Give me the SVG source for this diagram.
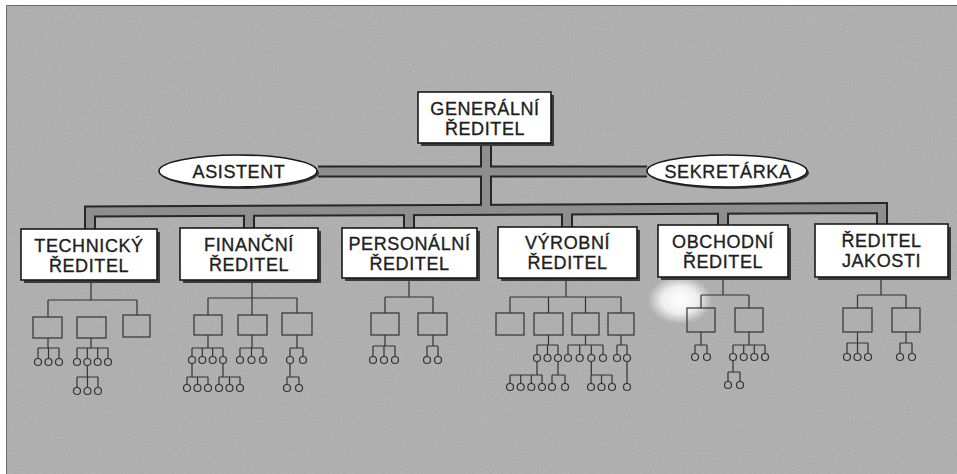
<svg xmlns="http://www.w3.org/2000/svg" width="957" height="474" viewBox="0 0 957 474">
<defs>
<filter id="noise" x="0" y="0" width="100%" height="100%">
<feTurbulence type="fractalNoise" baseFrequency="0.85" numOctaves="2" seed="7"/>
<feColorMatrix type="matrix" values="0.33 0.33 0.33 0 0 0.33 0.33 0.33 0 0 0.33 0.33 0.33 0 0 0 0 0 0 1"/>
</filter>
<radialGradient id="glare" cx="0.5" cy="0.5" r="0.5">
<stop offset="0" stop-color="#ffffff" stop-opacity="1"/>
<stop offset="0.55" stop-color="#ffffff" stop-opacity="0.8"/>
<stop offset="1" stop-color="#ffffff" stop-opacity="0"/>
</radialGradient>
<style>
.t{font-family:"Liberation Sans",Arial,sans-serif;font-size:18px;fill:#1e1e1e;stroke:#1e1e1e;stroke-width:0.35;text-anchor:middle;letter-spacing:0.6px}
.box{fill:#ffffff;stroke:#1a1a1a;stroke-width:1.6}
.shd{fill:#3a3a3a}
.pipeO{fill:none;stroke:#262626;stroke-width:12;stroke-linejoin:miter}
.pipeI{fill:none;stroke:#8e8e8e;stroke-width:8;stroke-linejoin:miter}
.ln{fill:none;stroke:#333333;stroke-width:1.2}
.sb{fill:none;stroke:#333333;stroke-width:1.2}
.c{fill:none;stroke:#333333;stroke-width:1.2}
</style>
</defs>
<rect x="0" y="0" width="957" height="474" fill="#ffffff"/>
<rect x="6" y="5" width="951" height="469" fill="#adadad"/>
<rect x="6" y="5" width="951" height="469" filter="url(#noise)" opacity="0.2"/>
<path d="M6.5,474 V5.5 H957" fill="none" stroke="#6a6a6a" stroke-width="1"/>
<ellipse cx="680" cy="300" rx="32" ry="24" fill="url(#glare)"/>

<g id="connectors">
<g id="pipes">
<path class="pipeO" d="M318,171.5 H647"/>
<path class="pipeO" d="M486,140 V211"/>
<path class="pipeO" d="M90,233 V211.5 L882,208 V230"/>
<path class="pipeO" d="M249,210.8 V232 M409,210.1 V232 M567,209.4 V231 M723,208.7 V229"/>
<path class="pipeI" d="M318,171.5 H647"/>
<path class="pipeI" d="M486,140 V211"/>
<path class="pipeI" d="M90,233 V211.5 L882,208 V230"/>
<path class="pipeI" d="M249,210.8 V232 M409,210.1 V232 M567,209.4 V231 M723,208.7 V229"/>
</g>
<path class="ln" d="M91,282 V300 M48,300 H137 M48,300 V317 M137,300 V315
M48,338 V348 M38,348 H59 M38,348 V358.5 M48.5,348 V358.5 M59,348 V358.5
M91,338 V348 M77,348 H108 M77,348 V358.5 M87.3,348 V358.5 M97.7,348 V358.5 M108,348 V358.5
M87.3,365.5 V377 M77,377 H98 M77,377 V387.5 M87.5,377 V387.5 M98,377 V387.5"/>
<path class="ln" d="M252,282 V298 M208,298 H297 M208,298 V315 M252,298 V315 M297,298 V313
M208,335 V348 M192,348 H223 M192,348 V356.5 M202.3,348 V356.5 M212.7,348 V356.5 M223,348 V356.5
M192,363.5 V377 M187,377 H208 M187,377 V384.5 M197.5,377 V384.5 M208,377 V384.5
M223,363.5 V377 M219,377 H240 M219,377 V384.5 M229.5,377 V384.5 M240,377 V384.5
M252,335 V348 M240,348 H263 M240,348 V356.5 M251.5,348 V356.5 M263,348 V356.5
M297,335 V348 M290,348 H303 M290,348 V356.5 M303,348 V356.5
M290,363.5 V377 M287,377 H299 M287,377 V384.5 M299,377 V384.5"/>
<path class="ln" d="M409,280 V297 M385,297 H433 M385,297 V313 M433,297 V313
M385,335 V346 M373,346 H395 M373,346 V356.5 M384,346 V356.5 M395,346 V356.5
M433,335 V346 M427,346 H438 M427,346 V356.5 M438,346 V356.5"/>
<path class="ln" d="M566,280 V297 M510,297 H621 M510,297 V313 M548.5,297 V313 M585.5,297 V313 M621,297 V313
M548.5,335 V345 M537,345 H558 M537,345 V354.5 M547.5,345 V354.5 M558,345 V354.5
M537,361.5 V375 M510,375 H542 M510,375 V383.5 M520.7,375 V383.5 M531.3,375 V383.5 M542,375 V383.5
M558,361.5 V375 M552,375 H565 M552,375 V383.5 M565,375 V383.5
M585.5,335 V345 M568,345 H603 M568,345 V354.5 M579.7,345 V354.5 M591.3,345 V354.5 M603,345 V354.5
M591.3,361.5 V375 M591,375 H612 M591,375 V383.5 M601.5,375 V383.5 M612,375 V383.5
M621,335 V345 M617,345 H627 M617,345 V354.5 M627,345 V354.5
M627,361.5 V383.5"/>
<path class="ln" d="M723,279 V295 M701,295 H749 M701,295 V308 M749,295 V308
M701,332 V345 M695,345 H707 M695,345 V353.5 M707,345 V353.5
M749,332 V345 M733,345 H765 M733,345 V353.5 M743.7,345 V353.5 M754.3,345 V353.5 M765,345 V353.5
M733,360.5 V372 M728,372 H740 M728,372 V381.5 M740,372 V381.5"/>
<path class="ln" d="M881,279 V295 M857.5,295 H906 M857.5,295 V308 M906,295 V308
M857.5,332 V343 M847,343 H868 M847,343 V353.5 M857.5,343 V353.5 M868,343 V353.5
M906,332 V343 M900,343 H912 M900,343 V353.5 M912,343 V353.5"/>
</g>

<g id="node-generalni-reditel">
<rect class="shd" x="421" y="95" width="133" height="51"/>
<rect class="box" x="418" y="92" width="133" height="51"/>
<text class="t" x="485" y="115">GENERÁLNÍ</text>
<text class="t" x="485" y="135">ŘEDITEL</text>
</g>
<g id="node-asistent">
<ellipse class="shd" cx="240" cy="173" rx="79" ry="16"/>
<ellipse class="box" cx="238" cy="171" rx="79" ry="16"/>
<text class="t" x="239" y="177.5">ASISTENT</text>
</g>
<g id="node-sekretarka">
<ellipse class="shd" cx="729" cy="173" rx="80" ry="16"/>
<ellipse class="box" cx="727" cy="171" rx="80" ry="16"/>
<text class="t" x="728" y="177.5">SEKRETÁRKA</text>
</g>

<g id="node-technicky">
<rect class="shd" x="24" y="232" width="136" height="51"/>
<rect class="box" x="21" y="229" width="136" height="51"/>
<text class="t" x="89" y="252">TECHNICKÝ</text>
<text class="t" x="89" y="272">ŘEDITEL</text>
<rect class="sb" x="33" y="317" width="29" height="21"/>
<rect class="sb" x="77" y="317" width="29" height="21"/>
<rect class="sb" x="123" y="315" width="27" height="22"/>
<circle class="c" cx="38" cy="362" r="3.5"/><circle class="c" cx="48.5" cy="362" r="3.5"/><circle class="c" cx="59" cy="362" r="3.5"/>
<circle class="c" cx="77" cy="362" r="3.5"/><circle class="c" cx="87.3" cy="362" r="3.5"/><circle class="c" cx="97.7" cy="362" r="3.5"/><circle class="c" cx="108" cy="362" r="3.5"/>
<circle class="c" cx="77" cy="391" r="3.5"/><circle class="c" cx="87.5" cy="391" r="3.5"/><circle class="c" cx="98" cy="391" r="3.5"/>
</g>

<g id="node-financni">
<rect class="shd" x="183" y="231" width="138" height="52"/>
<rect class="box" x="180" y="228" width="138" height="52"/>
<text class="t" x="249" y="251">FINANČNÍ</text>
<text class="t" x="249" y="271">ŘEDITEL</text>
<rect class="sb" x="194" y="315" width="28" height="20"/>
<rect class="sb" x="238" y="315" width="29" height="20"/>
<rect class="sb" x="282" y="313" width="30" height="22"/>
<circle class="c" cx="192" cy="360" r="3.5"/><circle class="c" cx="202.3" cy="360" r="3.5"/><circle class="c" cx="212.7" cy="360" r="3.5"/><circle class="c" cx="223" cy="360" r="3.5"/>
<circle class="c" cx="187" cy="388" r="3.5"/><circle class="c" cx="197.5" cy="388" r="3.5"/><circle class="c" cx="208" cy="388" r="3.5"/>
<circle class="c" cx="219" cy="388" r="3.5"/><circle class="c" cx="229.5" cy="388" r="3.5"/><circle class="c" cx="240" cy="388" r="3.5"/>
<circle class="c" cx="240" cy="360" r="3.5"/><circle class="c" cx="251.5" cy="360" r="3.5"/><circle class="c" cx="263" cy="360" r="3.5"/>
<circle class="c" cx="290" cy="360" r="3.5"/><circle class="c" cx="303" cy="360" r="3.5"/>
<circle class="c" cx="287" cy="388" r="3.5"/><circle class="c" cx="299" cy="388" r="3.5"/>
</g>

<g id="node-personalni">
<rect class="shd" x="345" y="231" width="135" height="50"/>
<rect class="box" x="342" y="228" width="135" height="50"/>
<text class="t" x="409.5" y="250">PERSONÁLNÍ</text>
<text class="t" x="409.5" y="270">ŘEDITEL</text>
<rect class="sb" x="371" y="313" width="28" height="22"/>
<rect class="sb" x="418" y="313" width="29" height="22"/>
<circle class="c" cx="373" cy="360" r="3.5"/><circle class="c" cx="384" cy="360" r="3.5"/><circle class="c" cx="395" cy="360" r="3.5"/>
<circle class="c" cx="427" cy="360" r="3.5"/><circle class="c" cx="438" cy="360" r="3.5"/>
</g>

<g id="node-vyrobni">
<rect class="shd" x="501" y="230" width="139" height="51"/>
<rect class="box" x="498" y="227" width="139" height="51"/>
<text class="t" x="567.5" y="249">VÝROBNÍ</text>
<text class="t" x="567.5" y="269">ŘEDITEL</text>
<rect class="sb" x="496" y="313" width="28" height="22"/>
<rect class="sb" x="534" y="313" width="29" height="22"/>
<rect class="sb" x="572" y="313" width="27" height="22"/>
<rect class="sb" x="608" y="313" width="26" height="22"/>
<circle class="c" cx="537" cy="358" r="3.5"/><circle class="c" cx="547.5" cy="358" r="3.5"/><circle class="c" cx="558" cy="358" r="3.5"/>
<circle class="c" cx="510" cy="387" r="3.5"/><circle class="c" cx="520.7" cy="387" r="3.5"/><circle class="c" cx="531.3" cy="387" r="3.5"/><circle class="c" cx="542" cy="387" r="3.5"/>
<circle class="c" cx="552" cy="387" r="3.5"/><circle class="c" cx="565" cy="387" r="3.5"/>
<circle class="c" cx="568" cy="358" r="3.5"/><circle class="c" cx="579.7" cy="358" r="3.5"/><circle class="c" cx="591.3" cy="358" r="3.5"/><circle class="c" cx="603" cy="358" r="3.5"/>
<circle class="c" cx="591" cy="387" r="3.5"/><circle class="c" cx="601.5" cy="387" r="3.5"/><circle class="c" cx="612" cy="387" r="3.5"/>
<circle class="c" cx="617" cy="358" r="3.5"/><circle class="c" cx="627" cy="358" r="3.5"/>
<circle class="c" cx="627" cy="387" r="3.5"/>
</g>

<g id="node-obchodni">
<rect class="shd" x="661" y="228" width="130" height="52"/>
<rect class="box" x="658" y="225" width="130" height="52"/>
<text class="t" x="723" y="248">OBCHODNÍ</text>
<text class="t" x="723" y="268">ŘEDITEL</text>
<rect class="sb" x="687" y="308" width="28" height="24"/>
<rect class="sb" x="735" y="308" width="28" height="24"/>
<circle class="c" cx="695" cy="357" r="3.5"/><circle class="c" cx="707" cy="357" r="3.5"/>
<circle class="c" cx="733" cy="357" r="3.5"/><circle class="c" cx="743.7" cy="357" r="3.5"/><circle class="c" cx="754.3" cy="357" r="3.5"/><circle class="c" cx="765" cy="357" r="3.5"/>
<circle class="c" cx="728" cy="385" r="3.5"/><circle class="c" cx="740" cy="385" r="3.5"/>
</g>

<g id="node-jakosti">
<rect class="shd" x="818" y="227" width="133" height="53"/>
<rect class="box" x="815" y="224" width="133" height="53"/>
<text class="t" x="881.5" y="247">ŘEDITEL</text>
<text class="t" x="881.5" y="267">JAKOSTI</text>
<rect class="sb" x="843" y="308" width="29" height="24"/>
<rect class="sb" x="892" y="308" width="28" height="24"/>
<circle class="c" cx="847" cy="357" r="3.5"/><circle class="c" cx="857.5" cy="357" r="3.5"/><circle class="c" cx="868" cy="357" r="3.5"/>
<circle class="c" cx="900" cy="357" r="3.5"/><circle class="c" cx="912" cy="357" r="3.5"/>
</g>
</svg>
